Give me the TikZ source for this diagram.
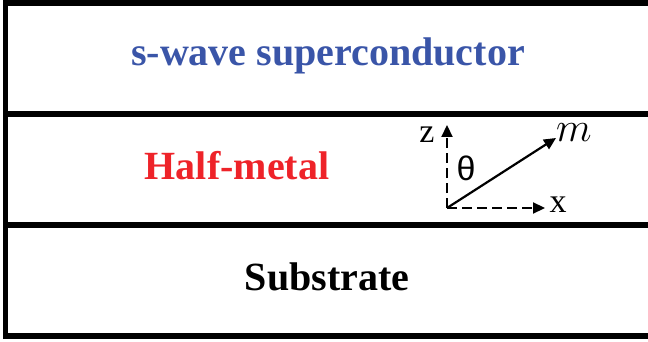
\documentclass[tikz,border=0pt]{standalone}
\usepackage{fontspec}
\setmainfont{Liberation Serif}
\newfontfamily\greekfont{Liberation Sans}
\usetikzlibrary{arrows.meta,positioning}
\definecolor{ScBlue}{HTML}{3A55A8}
\definecolor{HmRed}{HTML}{EE2329}
\tikzset{
  layerline/.style={line width=2.8pt,draw=black},
  layertext/.style={font=\bfseries\fontsize{20}{24}\selectfont,anchor=base,inner sep=0pt},
  axarr/.style={-{Triangle[length=6pt,width=5.5pt]},line width=1.1pt},
  axdash/.style={dash pattern=on 5pt off 2.5pt},
  axlabel/.style={font=\fontsize{17}{20}\selectfont,inner sep=0pt}
}

\begin{document}
\begin{tikzpicture}[x=0.5pt,y=-0.5pt]
  \useasboundingbox (0,0) rectangle (648,342);
  % layers
  \draw[layerline] (648,3) -- (5.5,3) -- (5.5,336) -- (648,336);
  \draw[layerline] (5.5,114) -- (648,114);
  \draw[layerline] (5.5,225) -- (648,225);
  \node[layertext,text=ScBlue] (sc) at (328,66) {s-wave superconductor};
  \node[layertext,text=HmRed] (hm) at (237,179) {Half-metal};
  \node[layertext] (sub) at (327,290) {Substrate};
  % axes and magnetization
  \coordinate (o) at (447,208);
  \coordinate (zt) at (447,125);
  \coordinate (xt) at (545,208);
  \coordinate (mt) at (556,138);
  \draw[axarr,axdash] (o) -- (zt);
  \draw[axarr,axdash] (o) -- (xt);
  \draw[axarr] (o) -- (mt);
  \node[axlabel] (zl) at (427,135) {z};
  \node[axlabel] (xl) at (558,205) {x};
  \node[axlabel,font=\greekfont\fontsize{17}{20}\selectfont] (th) at (466,168) {θ};
  \node[axlabel,font=\fontsize{20}{24}\selectfont] (ml) at (574,133) {$m$};
\end{tikzpicture}
\end{document}
